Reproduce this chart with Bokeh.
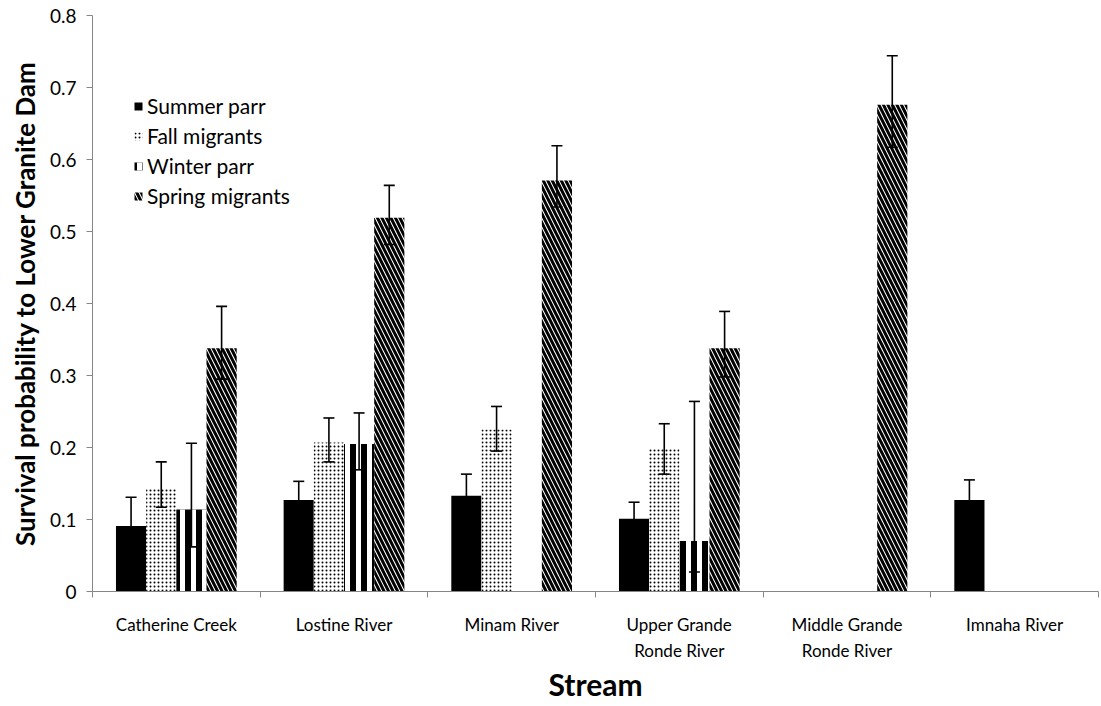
import math
from bokeh.plotting import figure
from bokeh.models import (ColumnDataSource, Range1d, FixedTicker, Whisker, TeeHead,
                          Legend, LegendItem)
from bokeh.transform import dodge
from bokeh.embed import file_html
from bokeh.resources import INLINE

nan = float("nan")

streams = ["Catherine Creek", "Lostine River", "Minam River",
           "Upper Grande\nRonde River", "Middle Grande\nRonde River", "Imnaha River"]
series = ["Summer parr", "Fall migrants", "Winter parr", "Spring migrants"]

summer = [0.091, 0.127, 0.133, 0.101, nan, 0.127]
summer_lo = [0.052, 0.101, 0.103, 0.078, nan, 0.099]
summer_hi = [0.131, 0.153, 0.163, 0.124, nan, 0.155]

fall = [0.143, 0.207, 0.225, 0.199, nan, nan]
fall_lo = [0.117, 0.180, 0.195, 0.163, nan, nan]
fall_hi = [0.180, 0.241, 0.257, 0.233, nan, nan]

winter = [0.114, 0.205, nan, 0.070, nan, nan]
winter_lo = [0.062, 0.169, nan, 0.027, nan, nan]
winter_hi = [0.206, 0.248, nan, 0.264, nan, nan]

spring = [0.338, 0.519, 0.571, 0.338, 0.676, nan]
spring_lo = [0.295, 0.482, 0.534, 0.298, 0.617, nan]
spring_hi = [0.396, 0.564, 0.619, 0.389, 0.744, nan]

y_ticks = [0, 0.1, 0.2, 0.3, 0.4, 0.5, 0.6, 0.7, 0.8]
y_tick_labels = ["0", "0.1", "0.2", "0.3", "0.4", "0.5", "0.6", "0.7", "0.8"]

FONT = "Lato"
AXIS_GREY = "#868686"

centers = [i + 0.5 for i in range(len(streams))]
bounds = [i for i in range(len(streams) + 1)]

p = figure(width=1099, height=704, x_range=Range1d(0, len(streams)), y_range=Range1d(0, 0.8),
           output_backend="svg", toolbar_location=None,
           min_border_left=92, min_border_top=15, min_border_right=1, min_border_bottom=112)
p.outline_line_color = None
p.xgrid.visible = False
p.ygrid.visible = False
p.background_fill_color = "white"

bar_w = 0.18
offsets = [-0.27, -0.09, 0.09, 0.27]
styles = [
    dict(fill_color="black", line_color=None),
    dict(fill_color="white", line_color=None, hatch_pattern=".", hatch_color="black",
         hatch_scale=4, hatch_weight=0.8),
    dict(fill_color="black", line_color=None, hatch_pattern="|", hatch_color="white",
         hatch_scale=11, hatch_weight=5),
    dict(fill_color="white", line_color=None, hatch_pattern="\\", hatch_color="black",
         hatch_scale=9, hatch_weight=3),
]
data = [(summer, summer_lo, summer_hi), (fall, fall_lo, fall_hi),
        (winter, winter_lo, winter_hi), (spring, spring_lo, spring_hi)]

items = []
for name, (vals, lo, hi), off, st in zip(series, data, offsets, styles):
    src = ColumnDataSource(dict(x=centers, top=vals, lower=lo, upper=hi))
    r = p.vbar(x=dodge("x", off), top="top", width=bar_w, bottom=0, source=src, **st)
    w = Whisker(source=src, base=dodge("x", off), lower="lower", upper="upper",
                line_color="black", line_width=1.6, level="annotation",
                upper_head=TeeHead(size=11, line_color="black", line_width=1.6),
                lower_head=TeeHead(size=11, line_color="black", line_width=1.6))
    p.add_layout(w)
    items.append(LegendItem(label=name, renderers=[r]))

legend = Legend(items=items, location=(41, 383), glyph_width=10, glyph_height=10,
                label_text_font=FONT, label_text_font_size="21px", label_text_color="black",
                label_height=20, spacing=5, padding=0, margin=0, label_standoff=4,
                background_fill_alpha=0, border_line_alpha=0)
p.add_layout(legend)

# y axis
ya = p.yaxis[0]
ya.ticker = FixedTicker(ticks=y_ticks)
ya.major_label_overrides = {t: l for t, l in zip(y_ticks, y_tick_labels)}
ya.axis_line_color = AXIS_GREY
ya.major_tick_line_color = AXIS_GREY
ya.minor_tick_line_color = None
ya.major_tick_out = 6
ya.major_tick_in = 0
ya.major_label_text_font = FONT
ya.major_label_text_font_size = "19px"
ya.major_label_text_color = "black"
ya.major_label_standoff = 10
ya.axis_label = "Survival probability to Lower Granite Dam"
ya.axis_label_text_font = FONT
ya.axis_label_text_font_style = "bold"
ya.axis_label_text_font_size = "26px"
ya.axis_label_text_color = "black"
ya.axis_label_standoff = 6

# x axis
xa = p.xaxis[0]
xa.ticker = FixedTicker(ticks=centers, minor_ticks=bounds)
xa.major_label_overrides = {c: s for c, s in zip(centers, streams)}
xa.axis_line_color = AXIS_GREY
xa.major_tick_line_color = None
xa.major_tick_out = 0
xa.major_tick_in = 0
xa.minor_tick_line_color = AXIS_GREY
xa.minor_tick_out = 6
xa.minor_tick_in = 0
xa.major_label_text_font = FONT
xa.major_label_text_font_size = "17px"
xa.major_label_text_color = "black"
xa.major_label_text_line_height = 1.25
xa.major_label_standoff = 16
xa.axis_label = "Stream"
xa.axis_label_text_font = FONT
xa.axis_label_text_font_style = "bold"
xa.axis_label_text_font_size = "30px"
xa.axis_label_text_color = "black"
xa.axis_label_standoff = 2

open("out.html", "w").write(file_html(p, INLINE))
